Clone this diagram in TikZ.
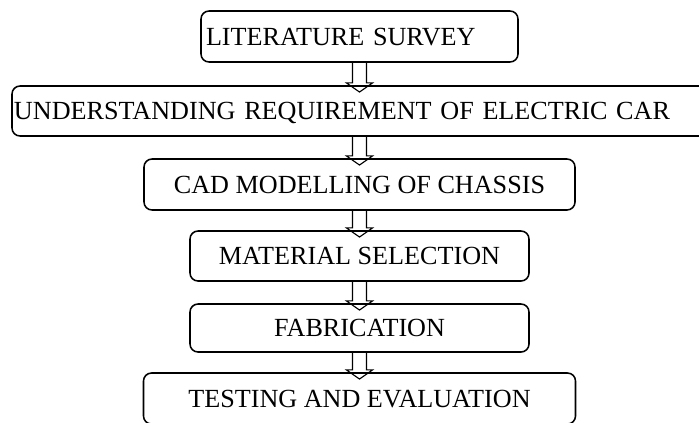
\documentclass[tikz,border=0pt]{standalone}
\usepackage{fontspec}
\setmainfont{Liberation Serif}
\usepackage{tikz}
\usetikzlibrary{calc}
\def\flowarrow(#1)(#2){\draw[line width=0.8pt] ($(#1.south)+(-0.175,0)$) -- ($(#2.north)+(-0.175,0.06)$) -- ($(#2.north)+(-0.33,0.06)$) -- ($(#2.north)+(0,-0.17)$) -- ($(#2.north)+(0.33,0.06)$) -- ($(#2.north)+(0.175,0.06)$) -- ($(#1.south)+(0.175,0)$);}

\begin{document}
\begin{tikzpicture}[
		stagebox/.style={draw, line width=1.1pt, rounded corners=0.2cm, inner ysep=0pt,
			text height=0.44cm, text depth=0cm, font=\fontsize{18.6}{22}\selectfont},
	]
			%%%%% START %%%%%
			
			\clip (0, 0) rectangle (17.475, -10.55);
			\useasboundingbox (0, 0) rectangle (17.475, -10.55);
			
			\node[stagebox, inner xsep=0.125cm, text width=7.675cm, align=left, minimum height=1.275cm] (survey) at (8.9875, -0.9125) {LITERATURE SURVEY};
			\node[stagebox, inner xsep=0.05cm, text width=17.275cm, align=left, minimum height=1.25cm] (require) at (8.9875, -2.775) {UNDERSTANDING REQUIREMENT OF ELECTRIC CAR};
			\node[stagebox, minimum width=10.775cm, minimum height=1.275cm] (cad) at (8.9875, -4.6125) {CAD MODELLING OF CHASSIS};
			\node[stagebox, minimum width=8.475cm, minimum height=1.25cm] (material) at (8.9875, -6.4) {MATERIAL SELECTION};
			\node[stagebox, minimum width=8.475cm, minimum height=1.2cm] (fabric) at (8.9875, -8.2) {FABRICATION};
			\node[stagebox, minimum width=10.8cm, minimum height=1.275cm] (testing) at (8.9875, -9.9625) {TESTING AND EVALUATION};
			
			\flowarrow(survey)(require)
			\flowarrow(require)(cad)
			\flowarrow(cad)(material)
			\flowarrow(material)(fabric)
			\flowarrow(fabric)(testing)
			
			%%%%% END %%%%%
		\end{tikzpicture}
\end{document}
